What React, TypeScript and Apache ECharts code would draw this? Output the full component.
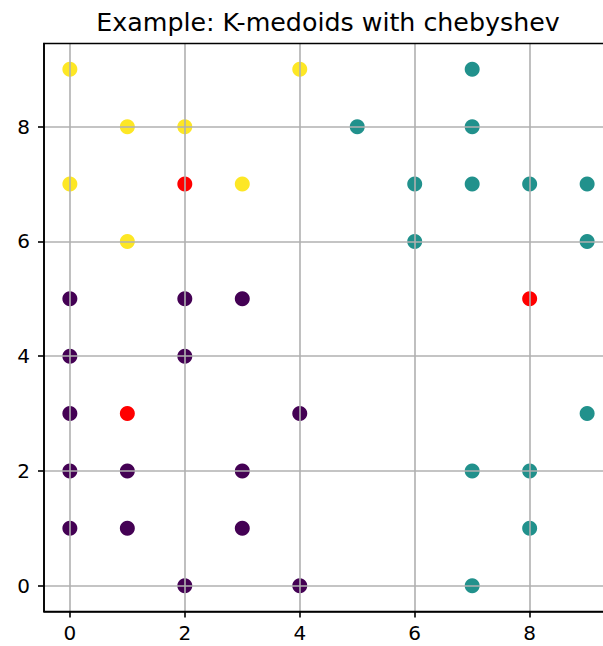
import React, { useEffect, useRef } from "react";
import * as echarts from "echarts";

const titleText = "Example: K-medoids with chebyshev";
const tickValues = [0, 2, 4, 6, 8];

const cluster0: number[][] = [
  [0, 5], [2, 5], [3, 5], [0, 4], [2, 4], [0, 3], [4, 3], [0, 2],
  [1, 2], [3, 2], [0, 1], [1, 1], [3, 1], [2, 0], [4, 0],
];
const cluster1: number[][] = [
  [7, 9], [5, 8], [7, 8], [6, 7], [7, 7], [8, 7], [9, 7], [6, 6],
  [9, 6], [9, 3], [7, 2], [8, 2], [8, 1], [7, 0],
];
const cluster2: number[][] = [
  [0, 9], [4, 9], [1, 8], [2, 8], [0, 7], [3, 7], [1, 6],
];
const medoids: number[][] = [[1, 3], [8, 5], [2, 7]];

const colors = ["#440154", "#21918c", "#fde725"];
const medoidColor = "#ff0000";

export default function App() {
  const ref = useRef<HTMLDivElement>(null);
  useEffect(() => {
    if (!ref.current) return;
    const chart = echarts.init(ref.current, null, { renderer: "svg" });
    const font = "DejaVu Sans";
    const axisCommon = {
      type: "value",
      min: -0.45,
      max: 9.45,
      z: 5,
      axisLine: { show: true, onZero: false, lineStyle: { color: "#000", width: 1.6 } },
      axisTick: {
        show: true,
        inside: false,
        customValues: tickValues,
        length: 6,
        lineStyle: { color: "#000", width: 1.6 },
      },
      axisLabel: {
        customValues: tickValues,
        color: "#000",
        fontSize: 20,
        fontFamily: font,
        margin: 11,
      },
      splitLine: { show: true, lineStyle: { color: "#b0b0b0", width: 1.6 } },
    };
    const mk = (data: number[][], color: string, z: number) => ({
      type: "scatter",
      data,
      symbol: "circle",
      symbolSize: 15,
      z,
      itemStyle: { color, opacity: 1 },
      emphasis: { disabled: true },
    });
    chart.setOption({
      animation: false,
      graphic: [
        {
          type: "text",
          x: 328,
          y: 22,
          style: {
            text: titleText,
            fontSize: 25.3,
            fontFamily: font,
            fill: "#000",
            textAlign: "center",
            textVerticalAlign: "middle",
          },
        },
      ],
      grid: {
        left: 44,
        top: 43.5,
        width: 569,
        height: 568,
        show: true,
        borderColor: "#000",
        borderWidth: 1.6,
        backgroundColor: "transparent",
        z: 6,
      },
      xAxis: { ...axisCommon },
      yAxis: { ...axisCommon, axisLabel: { ...axisCommon.axisLabel, margin: 14 } },
      series: [
        mk(cluster0, colors[0], 2),
        mk(cluster1, colors[1], 2),
        mk(cluster2, colors[2], 2),
        mk(medoids, medoidColor, 3),
      ],
    });
    return () => chart.dispose();
  }, []);
  return (
    <div
      ref={ref}
      style={{ position: "fixed", left: 0, top: 0, width: 630, height: 646, background: "#fff" }}
    />
  );
}
